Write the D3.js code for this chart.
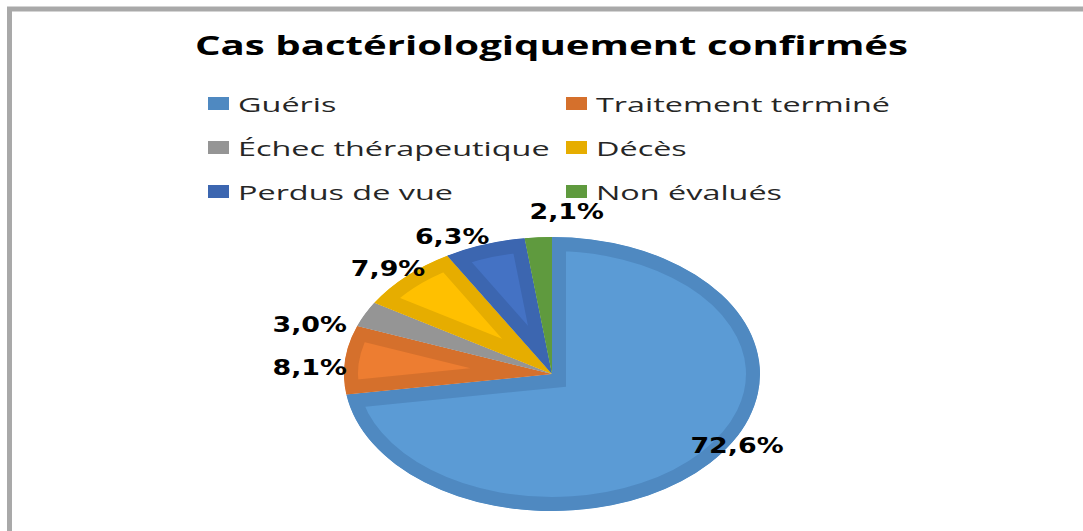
<!DOCTYPE html>
<html>
<head>
<meta charset="utf-8">
<script src="https://cdn.jsdelivr.net/npm/d3@7"></script>
<style>
  body { margin: 0; background: #fff; }
  svg { display: block; }
</style>
</head>
<body>
<svg id="chart" width="1083" height="531"></svg>
<script>
/** Pie chart: Cas bactériologiquement confirmés */

var title = 'Cas bactériologiquement confirmés';
var categories = ['Guéris', 'Traitement terminé', 'Échec thérapeutique', 'Décès', 'Perdus de vue', 'Non évalués'];
var values = [72.6, 8.1, 3.0, 7.9, 6.3, 2.1];
var fillColors = ['#5b9bd5', '#ed7d31', '#a5a5a5', '#ffc000', '#4472c4', '#68a443'];
var edgeColors = ['#4f89c1', '#d5702c', '#959595', '#e6ad00', '#3c66b0', '#5f9a3e'];

var W = 1083, H = 531;
var cx = 552, cy = 374, rx = 208, ry = 137;
var BAND = 14;             // darker inner border of each slice
var LEGEND_STRETCH = 1.66; // the picture is stretched horizontally
var LABEL_STRETCH = 1.28;

var svg = d3.select('#chart');

// Frame (only the top and left edges are inside the picture)
svg.append('rect').attr('x', 9.5).attr('y', 9).attr('width', W + 40).attr('height', H + 40)
  .attr('fill', '#fff').attr('stroke', '#a9a9a9').attr('stroke-width', 5);

// Title
svg.append('text')
  .attr('x', 195).attr('y', 55)
  .attr('textLength', 713).attr('lengthAdjust', 'spacingAndGlyphs')
  .style('font-family', '"Open Sans", "Noto Sans", sans-serif')
  .style('font-weight', 700).style('font-size', '27px').style('fill', '#000')
  .text(title);

// Legend, two columns
var legend = svg.append('g');
var item = legend.selectAll('g').data(categories).join('g')
  .attr('transform', function(d, i) {
    return 'translate(' + (i % 2 === 0 ? 208 : 566) + ',' + (112 + Math.floor(i / 2) * 44) + ')';
  });
item.append('rect').attr('x', 0).attr('y', -15).attr('width', 21).attr('height', 13)
  .attr('fill', function(d, i) { return edgeColors[i]; });
item.append('text')
  .attr('transform', 'translate(30,0) scale(' + LEGEND_STRETCH + ',1)')
  .style('font-family', '"Open Sans", "Noto Sans", sans-serif')
  .style('font-size', '19.5px').style('fill', '#262626')
  .text(function(d) { return d; });

// Pie slices on an ellipse
var pie = d3.pie().sort(null).value(function(d) { return d; });
var arcs = pie(values);

function pt(a, kx, ky) {
  return [cx + kx * Math.sin(a), cy - ky * Math.cos(a)];
}
function slicePath(d) {
  var p0 = pt(d.startAngle, rx, ry), p1 = pt(d.endAngle, rx, ry);
  var large = d.endAngle - d.startAngle > Math.PI ? 1 : 0;
  return 'M' + cx + ',' + cy + 'L' + p0[0] + ',' + p0[1] +
    'A' + rx + ',' + ry + ' 0 ' + large + ' 1 ' + p1[0] + ',' + p1[1] + 'Z';
}

var defs = svg.append('defs');
defs.selectAll('clipPath').data(arcs).join('clipPath')
  .attr('id', function(d, i) { return 'clip-' + i; })
  .append('path').attr('d', slicePath);

svg.append('g').selectAll('path').data(arcs).join('path')
  .attr('d', slicePath)
  .attr('clip-path', function(d, i) { return 'url(#clip-' + i + ')'; })
  .attr('fill', function(d, i) { return fillColors[i]; })
  .attr('stroke', function(d, i) { return edgeColors[i]; })
  .attr('stroke-width', BAND * 2)
  .attr('stroke-linejoin', 'miter');

// Data labels
var fmt = d3.format('.1f');
var labels = svg.append('g').selectAll('text').data(arcs).join('text')
  .style('font-family', '"DejaVu Sans", Verdana, sans-serif')
  .style('font-weight', 700).style('font-size', '21px').style('fill', '#000')
  .attr('text-anchor', 'middle')
  .text(function(d) { return fmt(d.value).replace('.', ',') + '%'; });

var h = 15, boxes = [];
labels.each(function(d) {
  var w = this.getComputedTextLength() * LABEL_STRETCH;
  var a = (d.startAngle + d.endAngle) / 2, s = Math.sin(a), c = Math.cos(a);
  var x, y;
  if (d.value > 50) {
    // big slice: inside end
    var p = pt(a, rx + 36, ry - 27);
    x = p[0]; y = p[1];
  } else if (Math.abs(s) > 0.85) {
    // side labels: beside the ellipse, hanging below the ray
    x = cx + Math.sign(s) * (rx - 3 + w / 2);
    y = cy - c * (ry - 6) + h / 2;
  } else {
    // upper labels: sitting on the ray
    x = cx + s * (rx + w / 2 * Math.abs(s));
    y = cy - c * ry - h / 2;
  }
  boxes.push({ node: this, x: x, y: y, w: w, s: s, inside: d.value > 50 });
});

// push overlapping outside labels apart; a label near the top climbs above its neighbour
var outside = boxes.filter(function(b) { return !b.inside; });
for (var i = 1; i < outside.length; i++) {
  var A = outside[i - 1], B = outside[i];
  var ox = (A.w + B.w) / 2 + 40 - Math.abs(A.x - B.x);
  var oy = h + 6 - Math.abs(A.y - B.y);
  if (ox > 0 && oy > 0) {
    A.x -= ox / 2; B.x += ox / 2;
    if (Math.abs(B.s) < 0.3) B.y = A.y - h - 10;
  }
}

boxes.forEach(function(b) {
  d3.select(b.node).attr('transform',
    'translate(' + b.x + ',' + (b.y + h / 2) + ') scale(' + LABEL_STRETCH + ',1)');
});
</script>
</body>
</html>
